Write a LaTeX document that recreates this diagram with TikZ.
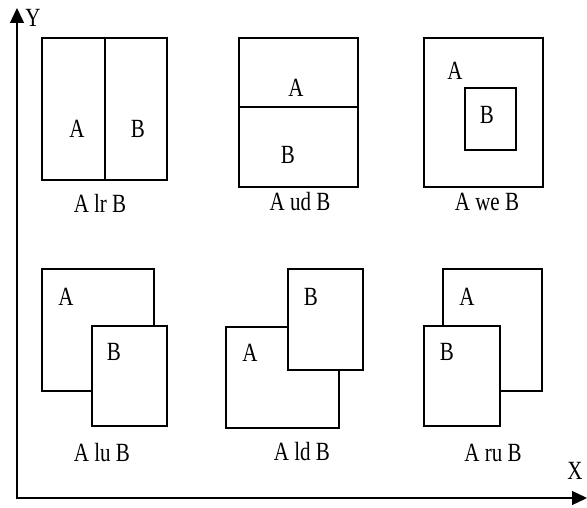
\documentclass[tikz,border=0pt]{standalone}
\usepackage{fontspec}
\setmainfont{Liberation Serif}
\usetikzlibrary{arrows.meta}
\newcommand{\tl}[1]{\scalebox{1}[1.25]{#1}}
\begin{document}
\begin{tikzpicture}[x=1pt,y=-1pt,
  box/.style={draw,line width=1.3pt,inner sep=0pt,outer sep=0pt,fill=white},
  lbl/.style={inner sep=0pt,font=\fontsize{21}{21}\selectfont},
  axis/.style={line width=1.4pt,{Triangle[length=15pt,width=14pt]}-{Triangle[length=15pt,width=14pt]}}]
\useasboundingbox (0,0) rectangle (587,508);
% axes
\coordinate (ytip) at (17,8);
\coordinate (orig) at (17,498);
\coordinate (xtip) at (587,498);
\draw[axis] (ytip) -- (orig) -- (xtip);
\node[lbl] (ylab) at (33,18) {\tl{Y}};
\node[lbl] (xlab) at (575,471) {\tl{X}};
% A lr B
\node[box,minimum width=63pt,minimum height=142pt] (lrA) at (73.5,109) {};
\node[box,minimum width=62pt,minimum height=142pt] (lrB) at (136,109) {};
\node[lbl] (lrAt) at (77,129) {\tl{A}};
\node[lbl] (lrBt) at (138,129) {\tl{B}};
\node[lbl] (lrcap) at (100,203) {\tl{A lr B}};
% A ud B
\node[box,minimum width=119pt,minimum height=69pt] (udA) at (298.5,72.5) {};
\node[box,minimum width=119pt,minimum height=80pt] (udB) at (298.5,147) {};
\node[lbl] (udAt) at (296,88) {\tl{A}};
\node[lbl] (udBt) at (288,155) {\tl{B}};
\node[lbl] (udcap) at (300,202) {\tl{A ud B}};
% A we B
\node[box,minimum width=119pt,minimum height=149pt] (weA) at (483.5,112.5) {};
\node[box,minimum width=51pt,minimum height=62pt] (weB) at (490.5,119) {};
\node[lbl] (weAt) at (455,71) {\tl{A}};
\node[lbl] (weBt) at (487,115) {\tl{B}};
\node[lbl] (wecap) at (487,202) {\tl{A we B}};
% A lu B
\node[box,minimum width=112pt,minimum height=122pt] (luA) at (98,330) {};
\node[box,minimum width=75pt,minimum height=100pt] (luB) at (129.5,376) {};
\node[lbl] (luAt) at (66,297) {\tl{A}};
\node[lbl] (luBt) at (114,352) {\tl{B}};
\node[lbl] (lucap) at (102,453) {\tl{A lu B}};
% A ld B
\node[box,minimum width=113pt,minimum height=101pt] (ldA) at (282.5,377.5) {};
\node[box,minimum width=75pt,minimum height=101pt] (ldB) at (325.5,319.5) {};
\node[lbl] (ldAt) at (250,353) {\tl{A}};
\node[lbl] (ldBt) at (311,297) {\tl{B}};
\node[lbl] (ldcap) at (302,452) {\tl{A ld B}};
% A ru B
\node[box,minimum width=99pt,minimum height=122pt] (ruA) at (492.5,330) {};
\node[box,minimum width=76pt,minimum height=100pt] (ruB) at (462,376) {};
\node[lbl] (ruAt) at (467,297) {\tl{A}};
\node[lbl] (ruBt) at (447,352) {\tl{B}};
\node[lbl] (rucap) at (493,453) {\tl{A ru B}};
\end{tikzpicture}
\end{document}
